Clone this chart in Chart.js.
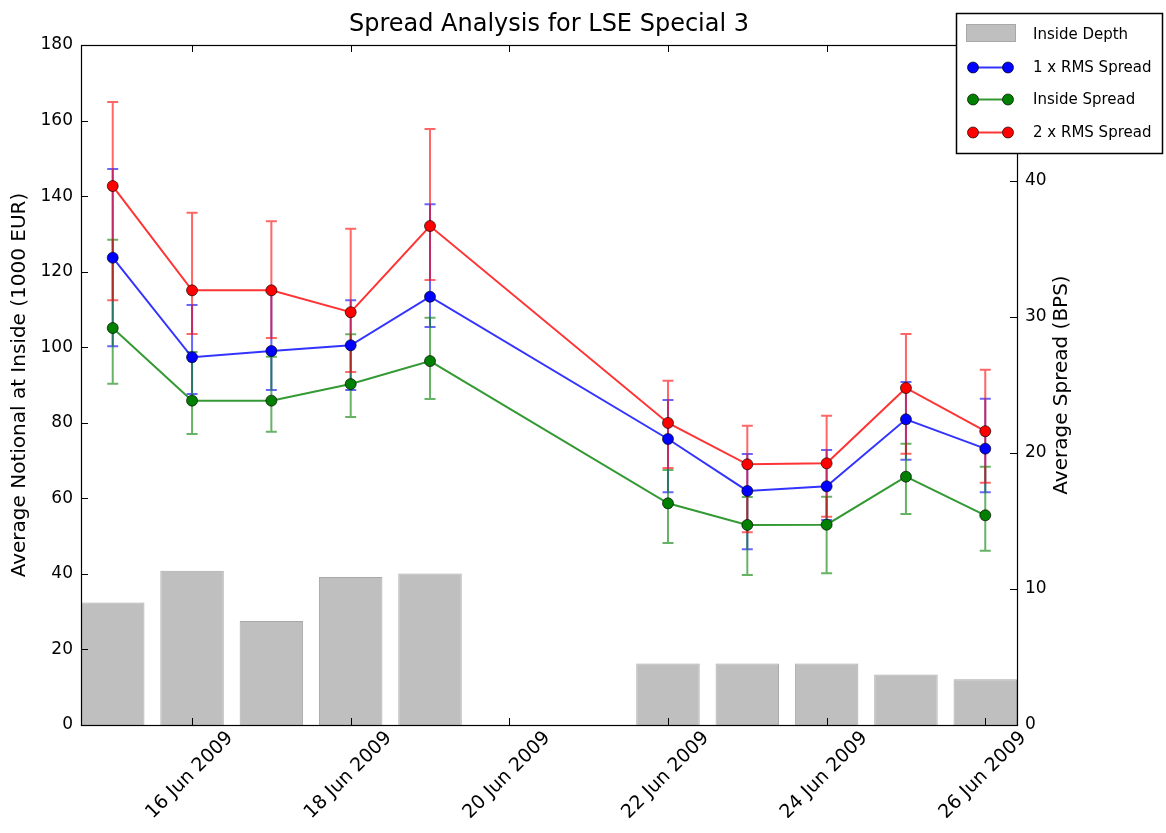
<!DOCTYPE html>
<html>
<head>
<meta charset="utf-8">
<script src="https://cdn.jsdelivr.net/npm/chart.js@4/dist/chart.umd.min.js"></script>
<style>
  html, body { margin: 0; padding: 0; background: #ffffff; }
  #wrap { width: 1166px; height: 833px; }
</style>
</head>
<body>
<div id="wrap"><canvas id="c" width="1166" height="833"></canvas></div>
<script>
// ---- data ----
const days = [15, 16, 17, 18, 19, 22, 23, 24, 25, 26];          // June 2009
const insideDepth = [32.4, 40.8, 27.5, 39.2, 40.1, 16.3, 16.3, 16.3, 13.4, 12.1]; // 1000 EUR

const rms1 = [34.36, 27.04, 27.50, 27.92, 31.49, 21.03, 17.21, 17.55, 22.48, 20.32];
const rms1Hi = [40.88, 30.88, 31.84, 31.23, 38.29, 23.90, 19.93, 20.22, 25.22, 23.99];
const rms1Lo = [27.85, 24.34, 24.63, 24.63, 29.26, 17.11, 12.92, 15.07, 19.51, 17.11];

const insideSpread = [29.19, 23.85, 23.85, 25.07, 26.76, 16.30, 14.71, 14.73, 18.26, 15.42];
const insideSpreadHi = [35.68, 27.43, 27.08, 28.73, 29.95, 18.75, 16.76, 16.79, 20.68, 18.99];
const insideSpreadLo = [25.10, 21.40, 21.57, 22.65, 23.97, 13.38, 11.03, 11.15, 15.51, 12.82];

const rms2 = [39.63, 31.96, 31.96, 30.35, 36.69, 22.21, 19.17, 19.24, 24.78, 21.60];
const rms2Hi = [45.81, 37.67, 37.04, 36.49, 43.82, 25.32, 22.01, 22.74, 28.75, 26.13];
const rms2Lo = [31.23, 28.75, 28.46, 25.96, 32.72, 18.90, 14.17, 15.32, 19.95, 17.82];

const xTickValues = [16, 18, 20, 22, 24, 26];
const xTickLabels = ['16 Jun 2009', '18 Jun 2009', '20 Jun 2009', '22 Jun 2009', '24 Jun 2009', '26 Jun 2009'];

const titleText = 'Spread Analysis for LSE Special 3';
const leftTitle = 'Average Notional at Inside (1000 EUR)';
const rightTitle = 'Average Spread (BPS)';
const legendLabels = ['Inside Depth', '1 x RMS Spread', 'Inside Spread', '2 x RMS Spread'];

// ---- styling ----
const FONT = "'DejaVu Sans', 'Liberation Sans', sans-serif";
const BLUE = [0, 0, 255], GREEN = [0, 128, 0], RED = [255, 0, 0];
const rgba = (c, a) => `rgba(${c[0]},${c[1]},${c[2]},${a})`;
const BAR_FILL = '#bfbfbf', BAR_EDGE = '#a8a8a8';

const pts = (arr) => days.map((d, i) => ({ x: d, y: arr[i] }));

const errorSeries = [
  { color: BLUE, lo: rms1Lo, hi: rms1Hi },
  { color: GREEN, lo: insideSpreadLo, hi: insideSpreadHi },
  { color: RED, lo: rms2Lo, hi: rms2Hi }
];

function lineDs(label, arr, col, order) {
  return {
    type: 'line', label, data: pts(arr), yAxisID: 'y2', order,
    borderColor: rgba(col, 0.8), borderWidth: 2, tension: 0, fill: false,
    pointRadius: 5.5, pointHoverRadius: 5.5,
    pointBackgroundColor: rgba(col, 1), pointBorderColor: 'rgba(0,0,0,0.65)', pointBorderWidth: 1
  };
}

const errorBarPlugin = {
  id: 'errbars',
  beforeDatasetsDraw(chart) {
    const ctx = chart.ctx, xs = chart.scales.x, ys = chart.scales.y2;
    ctx.save();
    ctx.lineWidth = 2;
    errorSeries.forEach(s => {
      ctx.strokeStyle = rgba(s.color, 0.6);
      days.forEach((d, i) => {
        const px = xs.getPixelForValue(d);
        const y1 = ys.getPixelForValue(s.lo[i]);
        const y2 = ys.getPixelForValue(s.hi[i]);
        ctx.beginPath();
        ctx.moveTo(px, y1); ctx.lineTo(px, y2);
        ctx.moveTo(px - 5.5, y1); ctx.lineTo(px + 5.5, y1);
        ctx.moveTo(px - 5.5, y2); ctx.lineTo(px + 5.5, y2);
        ctx.stroke();
      });
    });
    ctx.restore();
  }
};

const framePlugin = {
  id: 'frame',
  afterDatasetsDraw(chart) {
    const ctx = chart.ctx, a = chart.chartArea;
    const xs = chart.scales.x, yl = chart.scales.y, yr = chart.scales.y2;
    const T = 7;
    ctx.save();
    ctx.strokeStyle = '#000';
    ctx.lineWidth = 1;
    ctx.beginPath();
    xs.ticks.forEach(t => {
      const px = Math.round(xs.getPixelForValue(t.value)) + 0.5;
      ctx.moveTo(px, a.bottom); ctx.lineTo(px, a.bottom - T);
      ctx.moveTo(px, a.top); ctx.lineTo(px, a.top + T);
    });
    yl.ticks.forEach(t => {
      const py = Math.round(yl.getPixelForValue(t.value)) + 0.5;
      ctx.moveTo(a.left, py); ctx.lineTo(a.left + T, py);
    });
    yr.ticks.forEach(t => {
      const py = Math.round(yr.getPixelForValue(t.value)) + 0.5;
      ctx.moveTo(a.right, py); ctx.lineTo(a.right - T, py);
    });
    ctx.stroke();
    ctx.lineWidth = 1.2;
    ctx.strokeRect(Math.round(a.left) + 0.5, Math.round(a.top) + 0.5,
                   Math.round(a.right - a.left), Math.round(a.bottom - a.top));
    ctx.restore();
  },
  afterDraw(chart) {
    const ctx = chart.ctx, a = chart.chartArea;
    ctx.save();
    ctx.fillStyle = '#000';
    // title
    ctx.font = `24px ${FONT}`;
    ctx.textAlign = 'center';
    ctx.textBaseline = 'alphabetic';
    ctx.fillText(titleText, (a.left + a.right) / 2, 31);
    // axis titles (both read bottom-to-top)
    const midY = (a.top + a.bottom) / 2;
    ctx.font = `20px ${FONT}`;
    ctx.textBaseline = 'middle';
    [[20, leftTitle], [1062, rightTitle]].forEach(([x, txt]) => {
      ctx.save();
      ctx.translate(x, midY);
      ctx.rotate(-Math.PI / 2);
      ctx.fillText(txt, 0, 0);
      ctx.restore();
    });
    // legend
    const L = { x: 956.5, y: 13.5, w: 206, h: 140 };
    ctx.fillStyle = '#fff';
    ctx.fillRect(L.x, L.y, L.w, L.h);
    ctx.strokeStyle = '#000';
    ctx.lineWidth = 1.5;
    ctx.strokeRect(L.x, L.y, L.w, L.h);
    ctx.font = `15px ${FONT}`;
    ctx.textAlign = 'left';
    ctx.textBaseline = 'middle';
    const rowsY = [34.5, 67.5, 99.5, 132.5];
    // bar swatch
    ctx.fillStyle = BAR_FILL;
    ctx.fillRect(966.5, 24.5, 49, 17);
    ctx.strokeStyle = BAR_EDGE; ctx.lineWidth = 1;
    ctx.strokeRect(966.5, 24.5, 49, 17);
    const cols = [BLUE, GREEN, RED];
    cols.forEach((c, k) => {
      const y = rowsY[k + 1];
      ctx.strokeStyle = rgba(c, 0.8); ctx.lineWidth = 2;
      ctx.beginPath(); ctx.moveTo(973, y); ctx.lineTo(1008, y); ctx.stroke();
      [973, 1008].forEach(mx => {
        ctx.beginPath(); ctx.arc(mx, y, 5.5, 0, Math.PI * 2);
        ctx.fillStyle = rgba(c, 1); ctx.fill();
        ctx.strokeStyle = 'rgba(0,0,0,0.65)'; ctx.lineWidth = 1; ctx.stroke();
      });
    });
    ctx.fillStyle = '#000';
    legendLabels.forEach((t, k) => ctx.fillText(t, 1033, rowsY[k] + 1));
    ctx.restore();
  }
};

Chart.defaults.color = '#000';
Chart.defaults.font.family = FONT;

new Chart(document.getElementById('c'), {
  type: 'bar',
  data: {
    datasets: [
      {
        type: 'bar', label: legendLabels[0], data: pts(insideDepth), yAxisID: 'y', order: 4,
        backgroundColor: BAR_FILL, borderColor: BAR_EDGE, borderWidth: 1, borderSkipped: 'start',
        categoryPercentage: 1.0, barPercentage: 0.8
      },
      lineDs(legendLabels[1], rms1, BLUE, 3),
      lineDs(legendLabels[2], insideSpread, GREEN, 2),
      lineDs(legendLabels[3], rms2, RED, 1)
    ]
  },
  options: {
    responsive: false,
    animation: false,
    devicePixelRatio: 1,
    layout: { padding: { top: 45, left: 0, right: 0, bottom: 0 } },
    plugins: { legend: { display: false }, tooltip: { enabled: false }, title: { display: false } },
    scales: {
      x: {
        type: 'linear', min: 14.6, max: 26.4, offset: false,
        grid: { display: false, drawTicks: false }, border: { display: false },
        afterBuildTicks: (s) => { s.ticks = xTickValues.map(v => ({ value: v })); },
        afterFit: (s) => { s.height = 108; },
        ticks: {
          autoSkip: false, minRotation: 45, maxRotation: 45, labelOffset: 38, padding: 2,
          font: { size: 19, family: FONT }, color: '#000',
          callback: (v) => xTickLabels[xTickValues.indexOf(v)]
        }
      },
      y: {
        type: 'linear', position: 'left', min: 0, max: 180,
        grid: { display: false, drawTicks: false }, border: { display: false },
        afterFit: (s) => { s.width = 81; },
        ticks: { stepSize: 20, padding: 8, font: { size: 17, family: FONT }, color: '#000' }
      },
      y2: {
        type: 'linear', position: 'right', min: 0, max: 50,
        grid: { display: false, drawTicks: false }, border: { display: false },
        afterFit: (s) => { s.width = 149; },
        ticks: { stepSize: 10, padding: 8, font: { size: 17, family: FONT }, color: '#000' }
      }
    }
  },
  plugins: [errorBarPlugin, framePlugin]
});
</script>
</body>
</html>
